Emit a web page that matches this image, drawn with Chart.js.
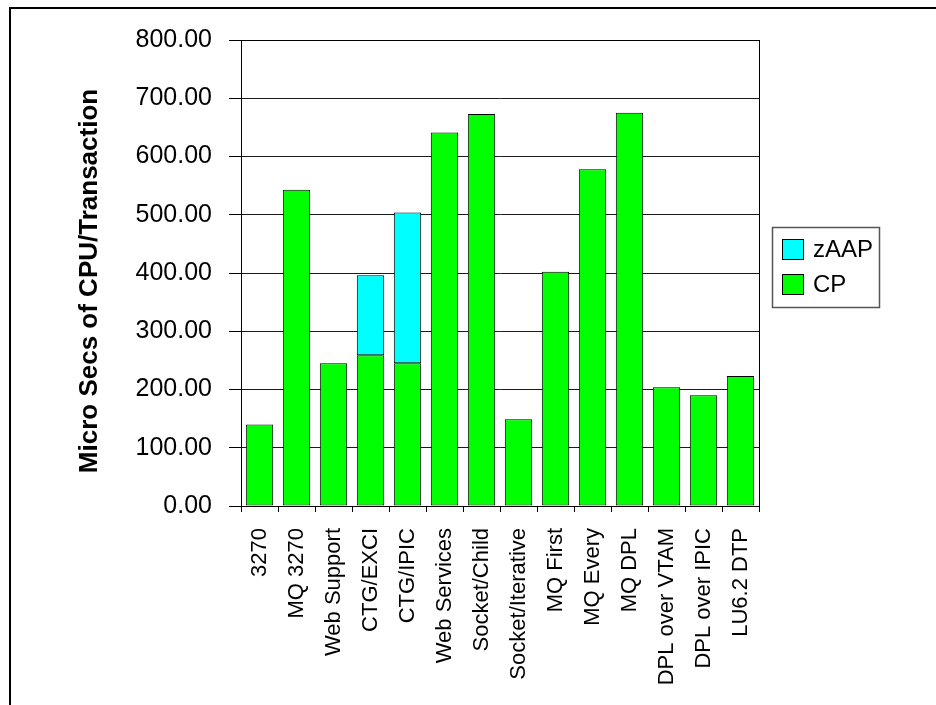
<!DOCTYPE html>
<html>
<head>
<meta charset="utf-8">
<script src="https://cdn.jsdelivr.net/npm/chart.js@4.4.1/dist/chart.umd.min.js"></script>
<style>
  html, body { margin: 0; padding: 0; background: #ffffff; }
  #wrap { width: 936px; height: 705px; position: relative; }
</style>
</head>
<body>
<div id="wrap"><canvas id="c" width="936" height="705"></canvas></div>
<script>
const categories = ["3270", "MQ 3270", "Web Support", "CTG/EXCI", "CTG/IPIC", "Web Services", "Socket/Child", "Socket/Iterative", "MQ First", "MQ Every", "MQ DPL", "DPL over VTAM", "DPL over IPIC", "LU6.2 DTP"];
const cpValues = [140, 543, 245, 259, 245, 641, 673, 149, 402, 578, 675, 204, 190, 223];
const zaapValues = [null, null, null, 137, 259, null, null, null, null, null, null, null, null, null];
const yTicks = [0, 100, 200, 300, 400, 500, 600, 700, 800];
const yTitle = "Micro Secs of CPU/Transaction";
const legendItems = [
  { label: "zAAP", color: "#00FFFF" },
  { label: "CP", color: "#00FF00" }
];

const FONT = "'Liberation Sans', Arial, sans-serif";

const framePlugin = {
  id: 'frame',
  beforeDraw(chart) {
    const ctx = chart.ctx;
    ctx.save();
    ctx.fillStyle = '#ffffff';
    ctx.fillRect(0, 0, chart.width, chart.height);
    ctx.strokeStyle = '#000000';
    ctx.lineWidth = 2;
    ctx.strokeRect(10, 8, 1000, 1000);
    ctx.restore();
  },
  afterDraw(chart) {
    const ctx = chart.ctx;
    const a = chart.chartArea;
    ctx.save();
    ctx.strokeStyle = '#000000';
    ctx.lineWidth = 1;
    ctx.strokeRect(Math.round(a.left) + 0.5, Math.round(a.top) + 0.5, Math.round(a.right - a.left), Math.round(a.bottom - a.top));
    // y axis title
    ctx.save();
    ctx.translate(89.5, 281);
    ctx.rotate(-Math.PI / 2);
    ctx.font = 'bold 26px ' + FONT;
    ctx.fillStyle = '#000000';
    ctx.textAlign = 'center';
    ctx.textBaseline = 'middle';
    ctx.fillText(yTitle, 0, 0);
    ctx.restore();
    // legend
    const bx = 772, by = 227, bw = 107, bh = 80;
    ctx.strokeStyle = '#555555';
    ctx.lineWidth = 1.5;
    ctx.strokeRect(bx + 0.5, by + 0.5, bw, bh);
    ctx.font = '24px ' + FONT;
    ctx.textBaseline = 'middle';
    ctx.textAlign = 'left';
    legendItems.forEach((it, i) => {
      const sy = 239 + i * 35;
      ctx.fillStyle = it.color;
      ctx.fillRect(782, sy, 22, 21);
      ctx.strokeStyle = '#000000';
      ctx.lineWidth = 1;
      ctx.strokeRect(782.5, sy + 0.5, 21, 20);
      ctx.fillStyle = '#000000';
      ctx.fillText(it.label, 813, sy + 11);
    });
    ctx.restore();
  }
};

new Chart(document.getElementById('c'), {
  type: 'bar',
  data: {
    labels: categories,
    datasets: [
      { label: 'CP', data: cpValues, backgroundColor: '#00FF00', borderColor: '#000000', borderWidth: 1, borderSkipped: false, barPercentage: 0.74, categoryPercentage: 1.0 },
      { label: 'zAAP', data: zaapValues, backgroundColor: '#00FFFF', borderColor: '#000000', borderWidth: 1, borderSkipped: false, barPercentage: 0.74, categoryPercentage: 1.0 }
    ]
  },
  options: {
    responsive: false,
    animation: false,
    devicePixelRatio: 1,
    layout: { padding: { left: 0, right: 177, top: 40, bottom: 0 } },
    plugins: { legend: { display: false }, tooltip: { enabled: false } },
    scales: {
      x: {
        stacked: true,
        afterFit(s) { s.height = 199; },
        grid: { display: true, drawOnChartArea: false, offset: true, color: '#000000', tickLength: 6, tickColor: '#000000' },
        border: { display: true, color: '#000000', width: 1 },
        ticks: { autoSkip: false, minRotation: 90, maxRotation: 90, padding: 16, color: '#000000', font: { family: FONT, size: 22 } }
      },
      y: {
        stacked: true,
        min: 0,
        max: 800,
        afterFit(s) { s.width = 241; },
        afterBuildTicks(s) { s.ticks = yTicks.map(v => ({ value: v })); },
        grid: { color: '#1a1a1a', tickLength: 12, tickColor: '#000000', lineWidth: 1 },
        border: { display: true, color: '#000000', width: 1 },
        ticks: { padding: 17, color: '#000000', font: { family: FONT, size: 25 }, callback: v => Number(v).toFixed(2) },
        title: { display: false }
      }
    }
  },
  plugins: [framePlugin]
});
</script>
</body>
</html>
